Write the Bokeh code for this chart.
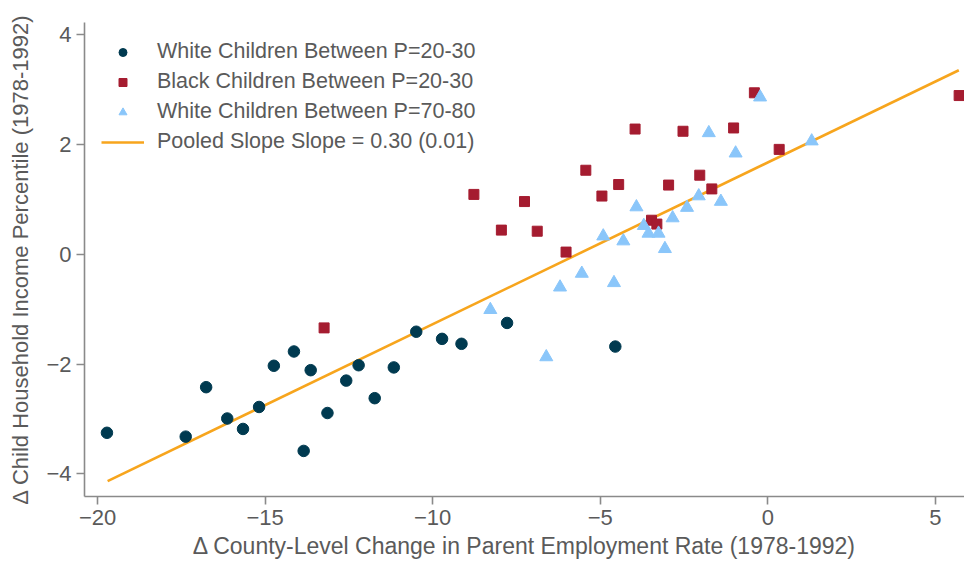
from bokeh.plotting import figure
from bokeh.models import Range1d, FixedTicker, Legend, LegendItem
from bokeh.embed import file_html
from bokeh.resources import INLINE

# White children P=20-30
white_low_x = [-19.72, -17.37, -16.76, -16.13, -15.66, -15.18, -14.74, -14.14, -13.85, -13.64,
               -13.14, -12.58, -12.21, -11.73, -11.16, -10.49, -9.72, -9.14, -7.78, -4.55]
white_low_y = [-3.25, -3.32, -2.42, -2.99, -3.18, -2.78, -2.03, -1.77, -3.58, -2.11,
               -2.89, -2.30, -2.02, -2.62, -2.06, -1.41, -1.54, -1.63, -1.25, -1.68]

# Black children P=20-30
black_low_x = [-13.24, -8.77, -7.95, -7.26, -6.88, -6.02, -5.43, -4.95, -4.45, -3.96,
               -3.47, -3.31, -2.96, -2.53, -2.03, -1.67, -1.02, -0.40, 0.34, 5.71]
black_low_y = [-1.34, 1.09, 0.44, 0.96, 0.42, 0.04, 1.53, 1.06, 1.27, 2.28,
               0.62, 0.55, 1.26, 2.24, 1.44, 1.19, 2.30, 2.94, 1.91, 2.89]

# White children P=70-80
white_high_x = [-8.28, -6.61, -6.20, -5.55, -4.91, -4.59, -4.31, -3.92, -3.70, -3.56,
                -3.26, -3.07, -2.84, -2.41, -2.06, -1.76, -1.40, -0.96, -0.23, 1.31]
white_high_y = [-1.01, -1.87, -0.60, -0.35, 0.33, -0.52, 0.24, 0.86, 0.52, 0.38,
                0.38, 0.10, 0.66, 0.85, 1.06, 2.21, 0.96, 1.84, 2.86, 2.06]

# Pooled fit line
fit_x = [-19.7, 5.7]
fit_y = [-4.13, 3.35]

x_ticks = [-20, -15, -10, -5, 0, 5]
y_ticks = [-4, -2, 0, 2, 4]

labels = ["White Children Between P=20-30", "Black Children Between P=20-30",
          "White Children Between P=70-80", "Pooled Slope Slope = 0.30 (0.01)"]

FONT = "Liberation Sans"
TXT = "#5a5a5a"
AX = "#8a8a8a"

p = figure(width=964, height=561, output_backend="svg", toolbar_location=None,
           x_range=Range1d(-20.39, 5.87), y_range=Range1d(-4.41, 4.22),
           min_border_left=84, min_border_right=0, min_border_top=22, min_border_bottom=53)
p.outline_line_color = None
p.xgrid.visible = False
p.ygrid.visible = False
p.background_fill_color = "white"

r_line = p.line(fit_x, fit_y, line_color="#f7a51d", line_width=2.6)
r_w = p.scatter(white_low_x, white_low_y, marker="circle", size=11.5, fill_color="#003a50", line_color="#003a50")
r_b = p.scatter(black_low_x, black_low_y, marker="square", size=10, fill_color="#a51c30", line_color="#a51c30")
r_t = p.scatter(white_high_x, white_high_y, marker="triangle", size=13, fill_color="#8ac6fa", line_color="#8ac6fa")

for ax, ticks in ((p.xaxis[0], x_ticks), (p.yaxis[0], y_ticks)):
    ax.ticker = FixedTicker(ticks=ticks)
    ax.axis_line_color = AX
    ax.axis_line_width = 1.6
    ax.major_tick_line_color = AX
    ax.major_tick_line_width = 1.6
    ax.major_tick_out = 8
    ax.major_tick_in = 0
    ax.minor_tick_line_color = None
    ax.major_label_text_font = FONT
    ax.major_label_text_font_size = "22px"
    ax.major_label_text_color = TXT
    ax.axis_label_text_font = FONT
    ax.axis_label_text_color = TXT
    ax.axis_label_text_font_style = "normal"
    ax.major_label_standoff = 5

p.xaxis[0].axis_label_text_font_size = "23px"
p.yaxis[0].axis_label_text_font_size = "22px"
p.yaxis[0].major_label_orientation = "horizontal"
p.xaxis[0].axis_label = "\u0394 County-Level Change in Parent Employment Rate (1978-1992)"
p.yaxis[0].axis_label = "\u0394 Child Household Income Percentile (1978-1992)"
p.xaxis[0].axis_label_standoff = 5
p.yaxis[0].axis_label_standoff = 10

legend = Legend(items=[LegendItem(label=labels[0], renderers=[r_w]),
                       LegendItem(label=labels[1], renderers=[r_b]),
                       LegendItem(label=labels[2], renderers=[r_t]),
                       LegendItem(label=labels[3], renderers=[r_line])],
                location="top_left")
legend.border_line_color = None
legend.background_fill_alpha = 0
legend.margin = 17
legend.padding = 10
legend.spacing = 5
legend.glyph_width = 43
legend.glyph_height = 20
legend.label_height = 20
legend.label_standoff = 13
legend.label_text_font = FONT
legend.label_text_font_size = "21.5px"
legend.label_text_color = TXT
p.add_layout(legend)

open("out.html", "w").write(file_html(p, INLINE))
